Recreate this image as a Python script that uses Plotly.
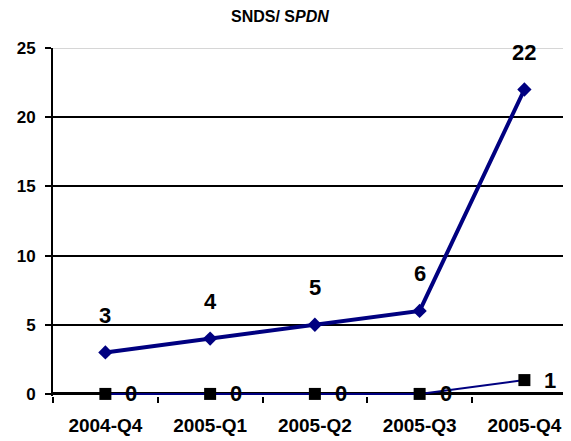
import plotly.graph_objects as go

categories = ["2004-Q4", "2005-Q1", "2005-Q2", "2005-Q3", "2005-Q4"]
snds_values = [3, 4, 5, 6, 22]
spdn_values = [0, 0, 0, 0, 1]
y_ticks = [0, 5, 10, 15, 20, 25]

FONT = "Arial, Liberation Sans, sans-serif"
NAVY = "#000080"

fig = go.Figure()
fig.add_trace(go.Scatter(
    x=categories, y=snds_values, mode="lines+markers",
    line=dict(color=NAVY, width=4),
    marker=dict(symbol="diamond", size=11, color=NAVY),
    showlegend=False, cliponaxis=False,
))
fig.add_trace(go.Scatter(
    x=categories, y=spdn_values, mode="lines+markers",
    line=dict(color=NAVY, width=2),
    marker=dict(symbol="square", size=12, color="black"),
    showlegend=False, cliponaxis=False,
))

annotations = []
for c, v in zip(categories, snds_values):
    annotations.append(dict(x=c, y=v, text=f"<b>{v}</b>", showarrow=False,
                            yshift=37, font=dict(family=FONT, size=22, color="black"),
                            xref="x", yref="y"))
for c, v in zip(categories, spdn_values):
    annotations.append(dict(x=c, y=v, text=f"<b>{v}</b>", showarrow=False,
                            xshift=26, yshift=0, font=dict(family=FONT, size=22, color="black"),
                            xref="x", yref="y"))
annotations.append(dict(x=0.438, y=1.0, xref="paper", yref="paper", yanchor="middle",
                        yshift=32, text="<b>SNDS/ S<i>PDN</i></b>", showarrow=False,
                        font=dict(family=FONT, size=16, color="black")))

# the page body adds an 8px margin, so the figure is 8px smaller and margins shifted
fig.update_layout(
    width=563, height=433,
    margin=dict(l=45, r=0, t=40, b=45),
    paper_bgcolor="white", plot_bgcolor="white",
    font=dict(family=FONT, color="black"),
    annotations=annotations,
    shapes=[dict(type="line", xref="paper", yref="y", x0=0, x1=1, y0=25, y1=25,
                 line=dict(color="#c8c8c8", width=1.5), layer="above")],
)
fig.update_xaxes(
    type="category", range=[-0.5, 4.445], automargin=False,
    tickson="boundaries", ticks="outside", ticklen=6, tickwidth=1.5, tickcolor="black",
    showline=False, showgrid=False, zeroline=False,
    tickfont=dict(family=FONT, size=19, color="black"),
    ticktext=[f"<b>{c}</b>" for c in categories], tickvals=categories,
    ticklabelstandoff=16,
)
fig.update_yaxes(
    range=[-0.15, 25], tickvals=y_ticks, automargin=False,
    ticktext=[f"<b>{t}</b>" for t in y_ticks],
    ticks="outside", ticklen=6, tickwidth=1.5, tickcolor="black",
    showline=True, linecolor="black", linewidth=2,
    showgrid=True, gridcolor="black", gridwidth=1.5,
    zeroline=True, zerolinecolor="black", zerolinewidth=2.5,
    tickfont=dict(family=FONT, size=17, color="black"),
    ticklabelstandoff=6,
)

fig.write_html("out.html")
